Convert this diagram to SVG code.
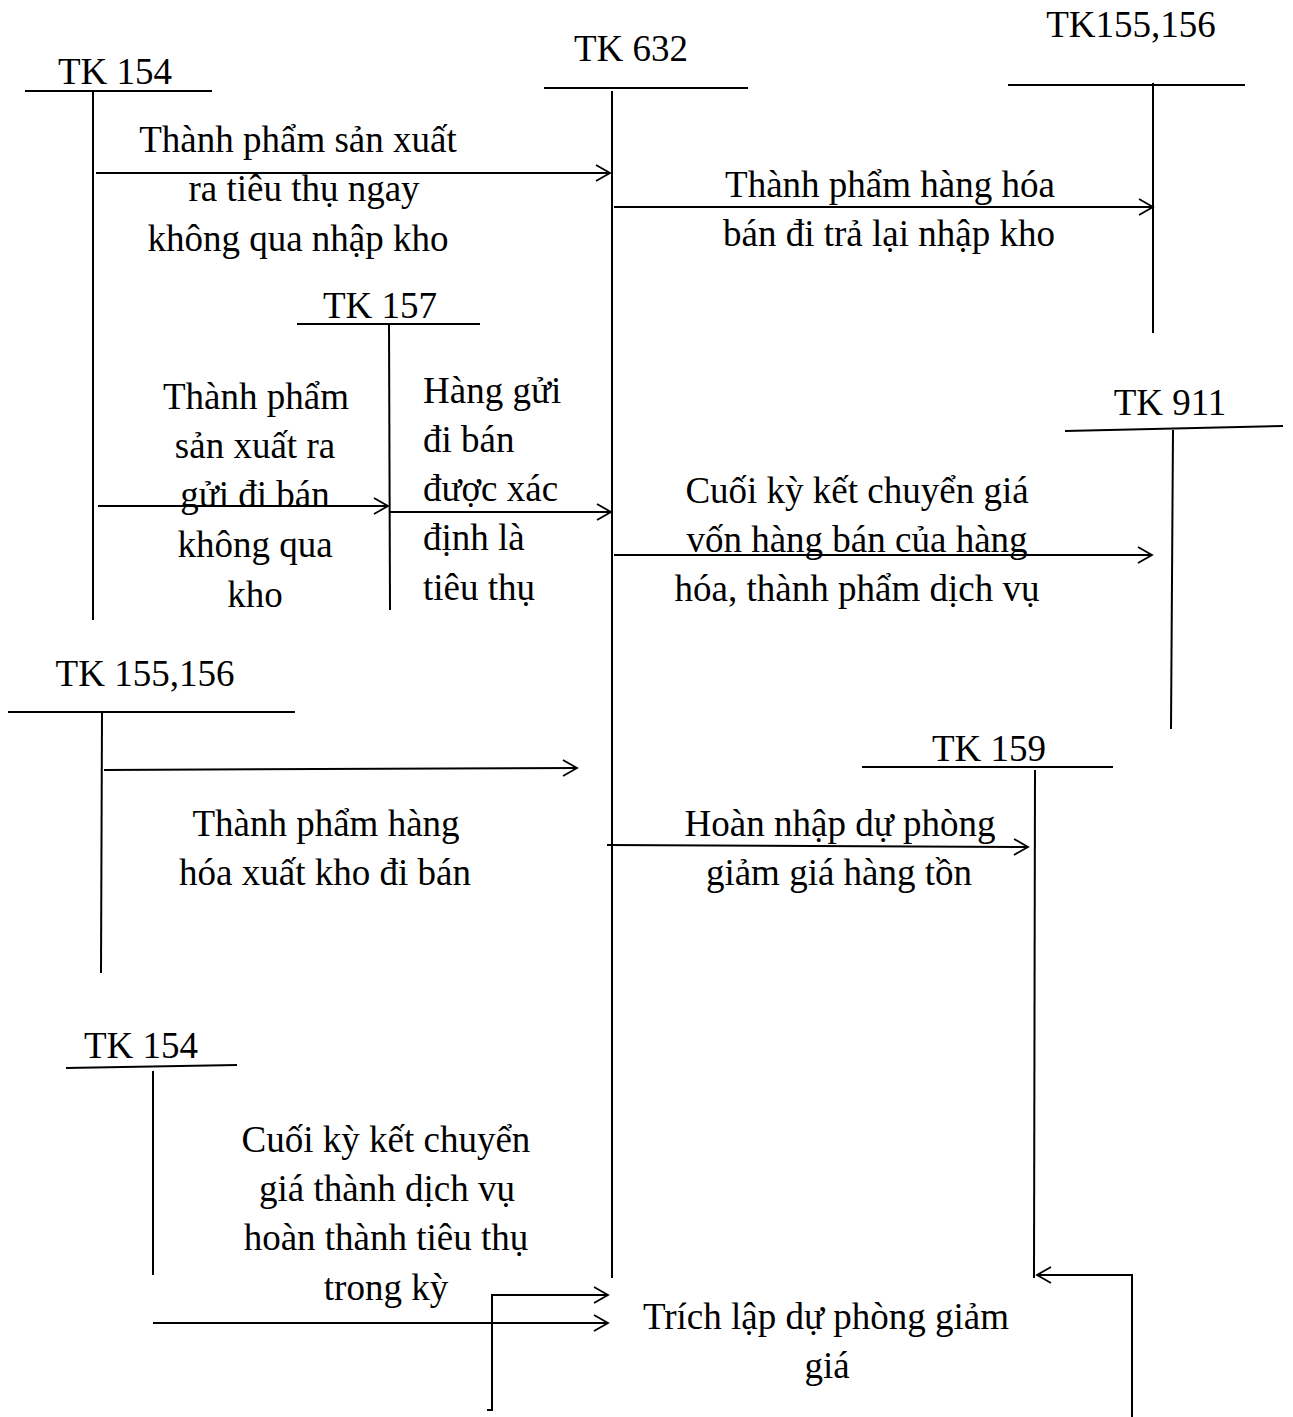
<svg xmlns="http://www.w3.org/2000/svg" width="1293" height="1417" viewBox="0 0 1293 1417">
<defs>
<marker id="arr" markerWidth="18" markerHeight="20" refX="16" refY="10" orient="auto" markerUnits="userSpaceOnUse">
<path d="M2,2 L16,10 L2,18" fill="none" stroke="#000" stroke-width="1.8"/>
</marker>
<style>
text{font-family:"Liberation Serif","Times New Roman",serif;font-size:37px;fill:#000}
.c{text-anchor:middle}
.ln{stroke:#000;stroke-width:2;fill:none}
.ar{stroke:#000;stroke-width:2;fill:none;marker-end:url(#arr)}
</style>
</defs>
<rect width="1293" height="1417" fill="#fff"/>

<g id="tk154-top">
<text class="c" x="115" y="84">TK 154</text>
<line class="ln" x1="25" y1="91" x2="212" y2="91"/>
<line class="ln" x1="93" y1="91" x2="93" y2="620"/>
</g>
<g id="tk632">
<text class="c" x="631" y="61">TK 632</text>
<line class="ln" x1="544" y1="88" x2="748" y2="88"/>
<line class="ln" x1="612" y1="91" x2="612" y2="1278"/>
</g>
<g id="tk155-156-top">
<text class="c" x="1131" y="37">TK155,156</text>
<line class="ln" x1="1008" y1="85" x2="1245" y2="85"/>
<line class="ln" x1="1153" y1="83" x2="1153" y2="333"/>
</g>
<g id="tk157">
<text class="c" x="380" y="318">TK 157</text>
<line class="ln" x1="297" y1="324" x2="480" y2="324"/>
<line class="ln" x1="389" y1="324" x2="390" y2="610"/>
</g>
<g id="tk911">
<text class="c" x="1170" y="415">TK 911</text>
<line class="ln" x1="1065" y1="431" x2="1283" y2="426"/>
<line class="ln" x1="1173" y1="430" x2="1171" y2="729"/>
</g>
<g id="tk155-156-mid">
<text class="c" x="145" y="686">TK 155,156</text>
<line class="ln" x1="8" y1="712" x2="295" y2="712"/>
<line class="ln" x1="102" y1="712" x2="101" y2="973"/>
</g>
<g id="tk159">
<text class="c" x="989" y="761">TK 159</text>
<line class="ln" x1="862" y1="767" x2="1113" y2="767"/>
<line class="ln" x1="1035" y1="770" x2="1034" y2="1278"/>
</g>
<g id="tk154-bottom">
<text class="c" x="141" y="1058">TK 154</text>
<line class="ln" x1="66" y1="1068" x2="237" y2="1065"/>
<line class="ln" x1="153" y1="1071" x2="153" y2="1275"/>
</g>

<g id="connectors">
<line class="ar" x1="96" y1="173" x2="610" y2="173"/>
<line class="ar" x1="614" y1="207" x2="1153" y2="207"/>
<line class="ar" x1="98" y1="506" x2="388" y2="506"/>
<line class="ar" x1="390" y1="512" x2="611" y2="512"/>
<line class="ar" x1="614" y1="555" x2="1152" y2="555"/>
<line class="ar" x1="104" y1="770" x2="577" y2="768"/>
<line class="ar" x1="607" y1="845" x2="1028" y2="847"/>
<line class="ar" x1="153" y1="1323" x2="608" y2="1323"/>
<polyline class="ar" points="487,1410 492,1410 492,1295 608,1295"/>
<polyline class="ar" points="1132,1417 1132,1275 1037,1275"/>
</g>

<g id="labels">
<text class="c" x="298" y="152">Thành phẩm sản xuất</text>
<text class="c" x="304" y="201">ra tiêu thụ ngay</text>
<text class="c" x="298" y="251">không qua nhập kho</text>

<text class="c" x="890" y="197">Thành phẩm hàng hóa</text>
<text class="c" x="889" y="246">bán đi trả lại nhập kho</text>

<text class="c" x="256" y="409">Thành phẩm</text>
<text class="c" x="255" y="458">sản xuất ra</text>
<text class="c" x="255" y="507">gửi đi bán</text>
<text class="c" x="255" y="557">không qua</text>
<text class="c" x="255" y="607">kho</text>

<text x="423" y="403">Hàng gửi</text>
<text x="423" y="452">đi bán</text>
<text x="423" y="501">được xác</text>
<text x="423" y="550">định là</text>
<text x="423" y="600">tiêu thụ</text>

<text class="c" x="857" y="503">Cuối kỳ kết chuyển giá</text>
<text class="c" x="857" y="552">vốn hàng bán của hàng</text>
<text class="c" x="857" y="601">hóa, thành phẩm dịch vụ</text>

<text class="c" x="326" y="836">Thành phẩm hàng</text>
<text class="c" x="325" y="885">hóa xuất kho đi bán</text>

<text class="c" x="840" y="836">Hoàn nhập dự phòng</text>
<text class="c" x="839" y="885">giảm giá hàng tồn</text>

<text class="c" x="386" y="1152">Cuối kỳ kết chuyển</text>
<text class="c" x="387" y="1201">giá thành dịch vụ</text>
<text class="c" x="386" y="1250">hoàn thành tiêu thụ</text>
<text class="c" x="386" y="1300">trong kỳ</text>

<text class="c" x="826" y="1329">Trích lập dự phòng giảm</text>
<text class="c" x="827" y="1378">giá</text>
</g>
</svg>
